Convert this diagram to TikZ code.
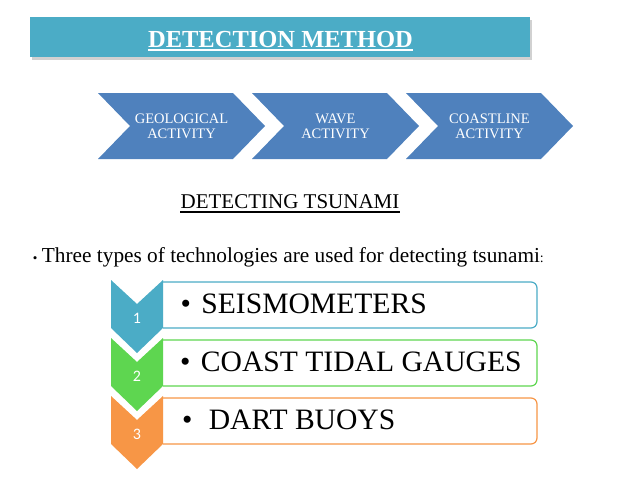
\documentclass[tikz,border=0pt]{standalone}
\usepackage{fontspec}
\setmainfont{Liberation Serif}
\newfontfamily\numfont{Carlito}
\usetikzlibrary{positioning, calc, shadows}

\definecolor{bannerblue}{RGB}{75,172,198}
\definecolor{chevblue}{RGB}{79,129,189}
\definecolor{itemblue}{RGB}{75,172,198}
\definecolor{itemgreen}{RGB}{94,214,80}
\definecolor{itemorange}{RGB}{247,150,70}

\begin{document}
\begin{tikzpicture}[
    x=1pt, y=-1pt,
    banner/.style={
        fill=bannerblue,
        minimum width=500pt,
        minimum height=40pt,
        inner sep=0pt,
        drop shadow={shadow xshift=2pt, shadow yshift=-3pt, fill=black!18, opacity=1}
    },
    titletext/.style={
        text=white,
        inner sep=0pt,
        font=\bfseries\fontsize{24.5}{28}\selectfont
    },
    chevtext/.style={
        text=white,
        align=center,
        inner sep=0pt,
        font=\fontsize{14.5}{14.7}\selectfont
    },
    numtext/.style={
        text=white,
        inner sep=0pt,
        font=\numfont\fontsize{16}{18}\selectfont
    },
    itembox/.style={draw, fill=white, line width=1.2pt, rounded corners=6pt},
    itemtext/.style={anchor=west, inner sep=0pt, font=\fontsize{29.6}{32}\selectfont},
    uline/.style={line width=1.2pt}
]
\useasboundingbox (0,0) rectangle (638,479);

% Title
\node[banner] (banner) at (280,37) {};
\node[titletext, anchor=base] (title) at (280.5,47) {DETECTION METHOD};
\draw[white, line width=2pt] ([yshift=-3pt]title.base west) -- ([yshift=-3pt]title.base east);

% Chevrons
\fill[chevblue] (98,93) -- (233,93) -- (265,126) -- (233,159) -- (98,159) -- (130,126) -- cycle;
\fill[chevblue] (252,93) -- (387,93) -- (419,126) -- (387,159) -- (252,159) -- (284,126) -- cycle;
\fill[chevblue] (406,93) -- (541,93) -- (573,126) -- (541,159) -- (406,159) -- (438,126) -- cycle;
\node[chevtext] (geo) at (181.5,126) {GEOLOGICAL\\ACTIVITY};
\node[chevtext] (wave) at (335.5,126) {WAVE\\ACTIVITY};
\node[chevtext] (coast) at (489.5,126) {COASTLINE\\ACTIVITY};

% Heading and intro
\node[anchor=base, inner sep=0pt, font=\fontsize{21}{24}\selectfont] (heading) at (290,208) {DETECTING TSUNAMI};
\draw[uline] ([yshift=-4pt]heading.base west) -- ([yshift=-4pt]heading.base east);
\node[anchor=base west, inner sep=0pt, font=\fontsize{21.3}{24}\selectfont] (intro) at (32.7,262)
    {{\fontsize{13}{14}\selectfont\textbullet}\hspace{4.5pt}Three types of technologies are used for detecting tsunami{\fontsize{14}{16}\selectfont:}};

% Item boxes
\draw[itembox, draw=itemblue] (163,282) -- (537,282) -- (537,328) -- (163,328);
\draw[itembox, draw=itemgreen] (163,340) -- (537,340) -- (537,386) -- (163,386);
\draw[itembox, draw=itemorange] (163,398) -- (537,398) -- (537,444) -- (163,444);

% Down chevrons
\fill[itemblue] (111,280) -- (137,304) -- (163,280) -- (163,328) -- (137,353) -- (111,328) -- cycle;
\fill[itemgreen] (111,338) -- (137,362) -- (163,338) -- (163,386) -- (137,411) -- (111,386) -- cycle;
\fill[itemorange] (111,396) -- (137,420) -- (163,396) -- (163,444) -- (137,469) -- (111,444) -- cycle;
\node[numtext] (n1) at (137,318) {1};
\node[numtext] (n2) at (137,376) {2};
\node[numtext] (n3) at (137,434) {3};

\node[itemtext] (seis) at (180.5,304) {\textbullet\hspace{0.35em}SEISMOMETERS};
\node[itemtext] (tidal) at (180,362) {\textbullet\hspace{0.35em}COAST TIDAL GAUGES};
\node[itemtext] (dart) at (182,420) {\textbullet\hspace{0.55em}DART BUOYS};

\end{tikzpicture}
\end{document}
